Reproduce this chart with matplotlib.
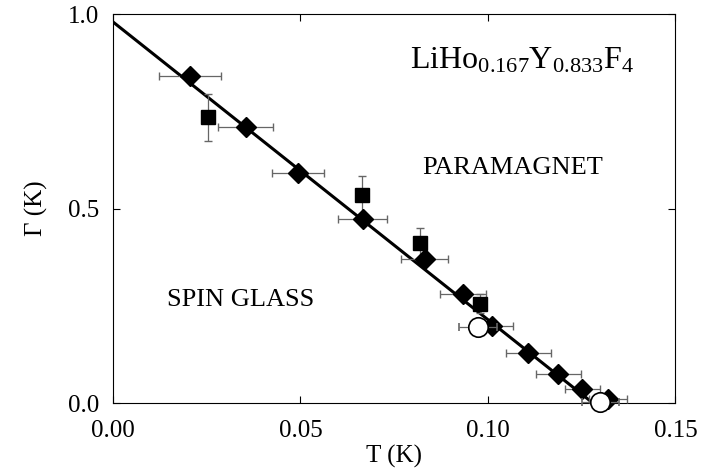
import matplotlib
matplotlib.use("Agg")
import matplotlib.pyplot as plt

plt.rcParams['font.family'] = ['Liberation Serif', 'DejaVu Serif']
plt.rcParams['mathtext.fontset'] = 'custom'
plt.rcParams['mathtext.rm'] = 'Liberation Serif'
plt.rcParams['mathtext.default'] = 'regular'

# diamonds: horizontal error bars
diamond_T = [0.0205, 0.0354, 0.0493, 0.0666, 0.0831, 0.0933, 0.1012, 0.1108, 0.1188, 0.1252, 0.132]
diamond_G = [0.84, 0.71, 0.591, 0.473, 0.37, 0.28, 0.198, 0.128, 0.075, 0.036, 0.01]
diamond_dT = [0.0082, 0.0073, 0.007, 0.0065, 0.0063, 0.0062, 0.0055, 0.006, 0.006, 0.0047, 0.005]

# squares: vertical error bars
square_T = [0.0253, 0.0663, 0.082, 0.0978]
square_G = [0.735, 0.535, 0.411, 0.256]
square_dG = [0.06, 0.05, 0.04, 0.025]

# open circles
circle_T = [0.0973, 0.130]
circle_G = [0.196, 0.003]
circle_dT = [0.005, 0.005]

# straight line fit
fit_T = [0.0, 0.128]
fit_G = [0.98, 0.0]

fig = plt.figure(figsize=(7.04, 4.72), dpi=100)
ax = fig.add_axes([0.1605, 0.146, 0.799, 0.824])

ax.plot(fit_T, fit_G, color='black', lw=2.2, zorder=3)

ax.errorbar(diamond_T, diamond_G, xerr=diamond_dT, fmt='D', color='black',
            ms=10, ecolor='0.4', elinewidth=0.9, capsize=3, zorder=4, clip_on=False)
ax.errorbar(square_T, square_G, yerr=square_dG, fmt='s', color='black',
            ms=10, ecolor='0.4', elinewidth=0.9, capsize=3, zorder=4, clip_on=False)
ax.errorbar(circle_T, circle_G, xerr=circle_dT, fmt='o', mfc='white', mec='black',
            mew=1.2, ms=14, ecolor='0.4', elinewidth=0.9, capsize=3, zorder=5, clip_on=False)

ax.set_xlim(0, 0.15)
ax.set_ylim(0, 1.0)
ax.set_xticks([0.0, 0.05, 0.10, 0.15])
ax.set_xticklabels(['0.00', '0.05', '0.10', '0.15'])
ax.set_yticks([0.0, 0.5, 1.0])
ax.set_yticklabels(['0.0', '0.5', '1.0'])
ax.tick_params(direction='in', top=True, right=True, length=5, labelsize=18)
ax.tick_params(axis='x', pad=12)
ax.tick_params(axis='y', pad=10)

ax.set_xlabel('T (K)', fontsize=18, labelpad=2)
ax.set_ylabel('Γ (K)', fontsize=18, labelpad=14)

ax.text(0.109, 0.88, r'LiHo$_{0.167}$Y$_{0.833}$F$_4$', fontsize=23, ha='center', va='center')
ax.text(0.1065, 0.604, 'PARAMAGNET', fontsize=19, ha='center', va='center')
ax.text(0.034, 0.265, 'SPIN GLASS', fontsize=19, ha='center', va='center')

fig.savefig('out.png', dpi=100)
